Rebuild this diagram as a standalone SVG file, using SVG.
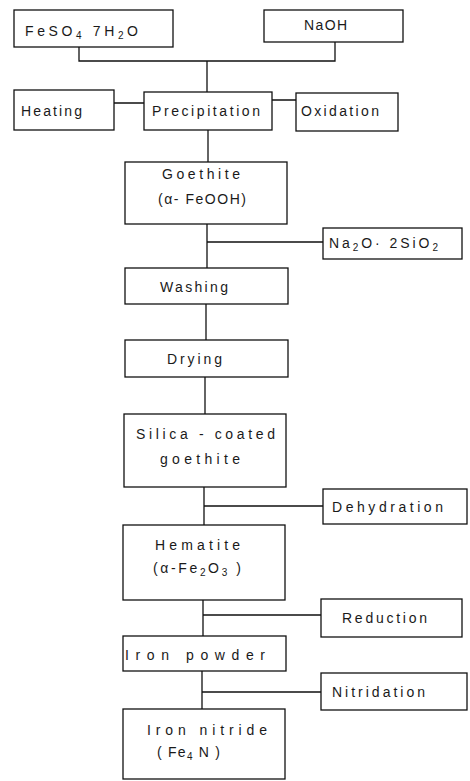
<svg xmlns="http://www.w3.org/2000/svg" width="470" height="781" viewBox="0 0 470 781">
<style>
.b{fill:#fff;stroke:#111;stroke-width:1.3}
.c{fill:none;stroke:#111;stroke-width:1.3}
text{font-family:"Liberation Sans",Arial,sans-serif;font-size:14px;fill:#1a1a1a}
.s{font-size:10px}
</style>
<rect width="470" height="781" fill="#fff"/>
<g id="connectors">
<path class="c" d="M79,47V61H335V42M207,61V92"/>
<path class="c" d="M114,103H144M272,100H296"/>
<path class="c" d="M208,130V162"/>
<path class="c" d="M207,224V268M207,242H323"/>
<path class="c" d="M206,304V340"/>
<path class="c" d="M205,377V414"/>
<path class="c" d="M204,487V525M204,506H323"/>
<path class="c" d="M203,600V636M203,615H321"/>
<path class="c" d="M202,671V709M202,692H321"/>
</g>
<g id="feso4"><rect class="b" x="14" y="10" width="159" height="37"/><text x="25" y="36" textLength="113" lengthAdjust="spacing">FeSO<tspan class="s" dy="3">4</tspan><tspan dy="-3">  7H</tspan><tspan class="s" dy="3">2</tspan><tspan dy="-3">O</tspan></text></g>
<g id="naoh"><rect class="b" x="264" y="10" width="139" height="32"/><text x="304" y="30" textLength="43" lengthAdjust="spacing">NaOH</text></g>
<g id="heating"><rect class="b" x="14" y="90" width="100" height="40"/><text x="21" y="116" textLength="61" lengthAdjust="spacing">Heating</text></g>
<g id="precipitation"><rect class="b" x="144" y="92" width="128" height="38"/><text x="152" y="116" textLength="108" lengthAdjust="spacing">Precipitation</text></g>
<g id="oxidation"><rect class="b" x="296" y="93" width="102" height="38"/><text x="301" y="116" textLength="78" lengthAdjust="spacing">Oxidation</text></g>
<g id="goethite"><rect class="b" x="125" y="162" width="162" height="62"/><text x="162" y="179" textLength="78" lengthAdjust="spacing">Goethite</text><text x="158" y="204" textLength="88" lengthAdjust="spacing">(α- FeOOH)</text></g>
<g id="silicate"><rect class="b" x="323" y="228" width="139" height="31"/><text x="329" y="248" textLength="109" lengthAdjust="spacing">Na<tspan class="s" dy="3">2</tspan><tspan dy="-3">O· 2SiO</tspan><tspan class="s" dy="3">2</tspan></text></g>
<g id="washing"><rect class="b" x="125" y="268" width="163" height="36"/><text x="160" y="292" textLength="68" lengthAdjust="spacing">Washing</text></g>
<g id="drying"><rect class="b" x="125" y="340" width="163" height="37"/><text x="167" y="364" textLength="55" lengthAdjust="spacing">Drying</text></g>
<g id="silica"><rect class="b" x="124" y="414" width="162" height="73"/><text x="136" y="439" textLength="139" lengthAdjust="spacing">Silica - coated</text><text x="160" y="464" textLength="80" lengthAdjust="spacing">goethite</text></g>
<g id="dehydration"><rect class="b" x="323" y="489" width="144" height="35"/><text x="332" y="512" textLength="111" lengthAdjust="spacing">Dehydration</text></g>
<g id="hematite"><rect class="b" x="123" y="525" width="162" height="75"/><text x="155" y="550" textLength="85" lengthAdjust="spacing">Hematite</text><text x="153" y="573" textLength="88" lengthAdjust="spacing">(α-Fe<tspan class="s" dy="3">2</tspan><tspan dy="-3">O</tspan><tspan class="s" dy="3">3</tspan><tspan dy="-3"> )</tspan></text></g>
<g id="reduction"><rect class="b" x="321" y="599" width="141" height="38"/><text x="342" y="623" textLength="85" lengthAdjust="spacing">Reduction</text></g>
<g id="ironpowder"><rect class="b" x="123" y="636" width="163" height="35"/><text x="125" y="660" textLength="140" lengthAdjust="spacing">Iron   powder</text></g>
<g id="nitridation"><rect class="b" x="321" y="673" width="146" height="37"/><text x="332" y="697" textLength="93" lengthAdjust="spacing">Nitridation</text></g>
<g id="ironnitride"><rect class="b" x="123" y="709" width="162" height="70"/><text x="147" y="735" textLength="120" lengthAdjust="spacing">Iron  nitride</text><text x="157" y="757" textLength="63" lengthAdjust="spacing">( Fe<tspan class="s" dy="3">4</tspan><tspan dy="-3"> N )</tspan></text></g>
</svg>
